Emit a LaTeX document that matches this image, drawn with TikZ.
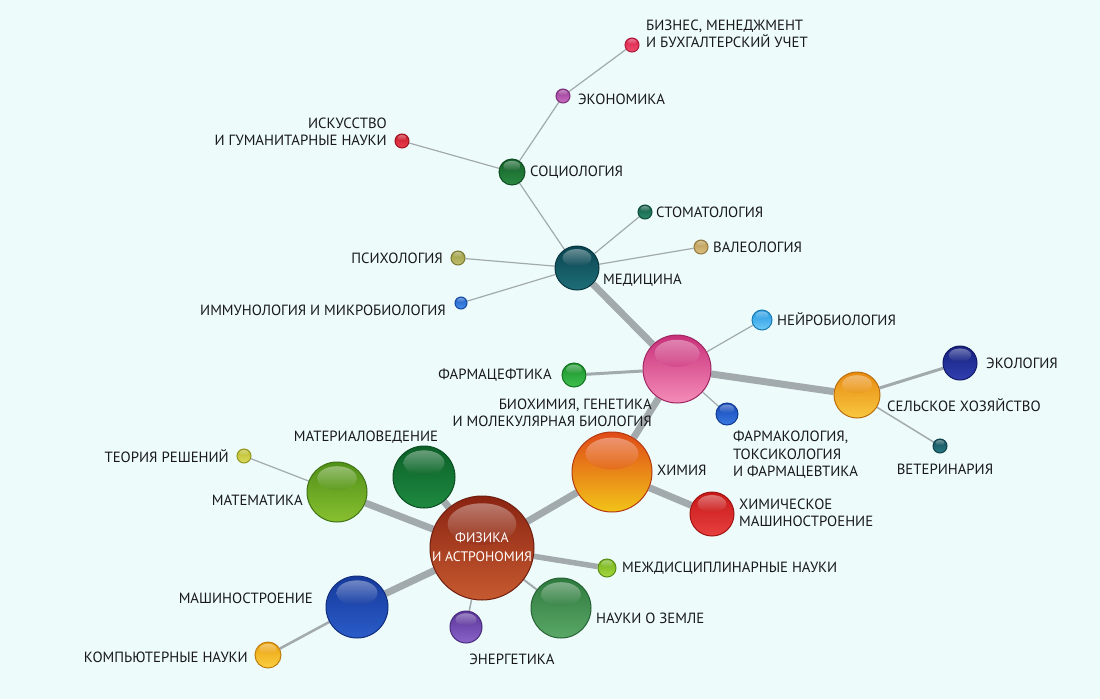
\documentclass[tikz,border=0pt]{standalone}
\usepackage{fontspec}
\setmainfont{PT Sans}
\usetikzlibrary{backgrounds}

\definecolor{bgc}{HTML}{EDFBFB}
\definecolor{edgec}{HTML}{A3AAAE}
\definecolor{physT}{HTML}{8A2412}\definecolor{physB}{HTML}{C65A30}
\definecolor{chemT}{HTML}{E04A18}\definecolor{chemB}{HTML}{F2C418}
\definecolor{bioT}{HTML}{C8307A}\definecolor{bioB}{HTML}{F48CB8}
\definecolor{medT}{HTML}{0A4450}\definecolor{medB}{HTML}{1E6E78}
\definecolor{socT}{HTML}{14602A}\definecolor{socB}{HTML}{2A8A40}
\definecolor{econT}{HTML}{9A3A98}\definecolor{econB}{HTML}{C870C0}
\definecolor{busT}{HTML}{DA1E48}\definecolor{busB}{HTML}{F05070}
\definecolor{artsT}{HTML}{C81828}\definecolor{artsB}{HTML}{E84050}
\definecolor{stomT}{HTML}{145E48}\definecolor{stomB}{HTML}{2A8A68}
\definecolor{valT}{HTML}{B89850}\definecolor{valB}{HTML}{DCC080}
\definecolor{psyT}{HTML}{9A9A40}\definecolor{psyB}{HTML}{C0C070}
\definecolor{immT}{HTML}{1A5CC8}\definecolor{immB}{HTML}{4A90E8}
\definecolor{neuT}{HTML}{2098E0}\definecolor{neuB}{HTML}{70C8F8}
\definecolor{phcT}{HTML}{189028}\definecolor{phcB}{HTML}{40C050}
\definecolor{pcolT}{HTML}{1448B8}\definecolor{pcolB}{HTML}{3A78E0}
\definecolor{agrT}{HTML}{E88A10}\definecolor{agrB}{HTML}{F8C840}
\definecolor{ecolT}{HTML}{14207E}\definecolor{ecolB}{HTML}{3040B0}
\definecolor{vetT}{HTML}{14505A}\definecolor{vetB}{HTML}{2A7A84}
\definecolor{cengT}{HTML}{C81818}\definecolor{cengB}{HTML}{E84040}
\definecolor{intT}{HTML}{70B018}\definecolor{intB}{HTML}{A8D840}
\definecolor{earT}{HTML}{2E7A3E}\definecolor{earB}{HTML}{5AA868}
\definecolor{enrT}{HTML}{5A3498}\definecolor{enrB}{HTML}{8A64C8}
\definecolor{mechT}{HTML}{163A9C}\definecolor{mechB}{HTML}{2A5CC8}
\definecolor{compT}{HTML}{ECA010}\definecolor{compB}{HTML}{FAD040}
\definecolor{mathT}{HTML}{509018}\definecolor{mathB}{HTML}{88C030}
\definecolor{decT}{HTML}{BABA28}\definecolor{decB}{HTML}{DCDC60}
\definecolor{matT}{HTML}{0C6028}\definecolor{matB}{HTML}{1E8A40}

\begin{document}
\begin{tikzpicture}[x=1pt,y=-1pt]

\tikzset{ThickEdge/.style={draw=edgec,line width=7pt},
  MidEdge/.style={draw=edgec,line width=3pt},
  ThinEdge/.style={draw=edgec,line width=1.2pt},
  Lbl/.style={font=\fontsize{14.8}{17.5}\selectfont,inner sep=0pt,text=black!90}}

  \useasboundingbox (0,0) rectangle (1100,699);

  % spheres
  \foreach \n/\x/\y/\r/\c in {phys/482/548/52/phys, chem/612/472/40/chem,
      bio/677/369/34/bio, med/577/268/22/med, soc/512/172/13/soc,
      econ/563/96/7/econ, bus/632/45/7/bus, arts/402/141/7/arts,
      stom/645/212/7/stom, val/701/247/7/val, psy/458/258/7/psy,
      imm/461/303/6/imm, neu/762/320/10/neu, phc/574/375/12/phc,
      pcol/727/414/11/pcol, agr/857/395/23/agr, ecol/960/363/17/ecol,
      vet/940/446/7/vet, ceng/712/514/22/ceng, int/607/568/9/int,
      ear/561/608/30/ear, enr/466/627/16/enr, mech/357/607/31/mech,
      comp/268/655/13/comp, math/337/492/30/math, dec/244/456/7/dec,
      mat/424/477/31/mat}
  {
    \node[circle,inner sep=0pt,minimum size={2*\r*1pt},top color=\c T,
      bottom color=\c B,draw=\c T!80!black,line width=1pt] (\n) at (\x,\y) {};
    \shade[top color=white,bottom color=\c T,fill opacity=.38]
      (\x,{\y-0.46*\r}) ellipse [x radius={0.66*\r*1pt},y radius={0.40*\r*1pt}];
  }

  % labels
  \node[Lbl,text=white,align=center,font=\fontsize{13.8}{18.5}\selectfont] (lphys) at (482,547) {ФИЗИКА\\И АСТРОНОМИЯ};
  \node[Lbl,anchor=west] (lchem) at (657,470) {ХИМИЯ};
  \node[Lbl,anchor=east,align=right] (lbio) at (652,413) {БИОХИМИЯ, ГЕНЕТИКА\\И МОЛЕКУЛЯРНАЯ БИОЛОГИЯ};
  \node[Lbl,anchor=west] (lmed) at (603,280) {МЕДИЦИНА};
  \node[Lbl,anchor=west] (lsoc) at (530,172) {СОЦИОЛОГИЯ};
  \node[Lbl,anchor=west] (lecon) at (578,99) {ЭКОНОМИКА};
  \node[Lbl,anchor=west,align=left] (lbus) at (646,34) {БИЗНЕС, МЕНЕДЖМЕНТ\\И БУХГАЛТЕРСКИЙ УЧЕТ};
  \node[Lbl,anchor=east,align=right] (larts) at (387,132) {ИСКУССТВО\\И ГУМАНИТАРНЫЕ НАУКИ};
  \node[Lbl,anchor=west] (lstom) at (656,212) {СТОМАТОЛОГИЯ};
  \node[Lbl,anchor=west] (lval) at (713,247) {ВАЛЕОЛОГИЯ};
  \node[Lbl,anchor=east] (lpsy) at (443,258) {ПСИХОЛОГИЯ};
  \node[Lbl,anchor=east] (limm) at (446,310) {ИММУНОЛОГИЯ И МИКРОБИОЛОГИЯ};
  \node[Lbl,anchor=west] (lneu) at (777,319) {НЕЙРОБИОЛОГИЯ};
  \node[Lbl,anchor=east] (lphc) at (552,375) {ФАРМАЦЕФТИКА};
  \node[Lbl,anchor=west,align=left] (lpcol) at (733,455) {ФАРМАКОЛОГИЯ,\\ТОКСИКОЛОГИЯ\\И ФАРМАЦЕВТИКА};
  \node[Lbl,anchor=west] (lagr) at (887,405) {СЕЛЬСКОЕ ХОЗЯЙСТВО};
  \node[Lbl,anchor=west] (lecol) at (986,363) {ЭКОЛОГИЯ};
  \node[Lbl] (lvet) at (945,469) {ВЕТЕРИНАРИЯ};
  \node[Lbl,anchor=west,align=left] (lceng) at (739,513) {ХИМИЧЕСКОЕ\\МАШИНОСТРОЕНИЕ};
  \node[Lbl,anchor=west] (lint) at (622,568) {МЕЖДИСЦИПЛИНАРНЫЕ НАУКИ};
  \node[Lbl,anchor=west] (lear) at (596,618) {НАУКИ О ЗЕМЛЕ};
  \node[Lbl] (lenr) at (512,659) {ЭНЕРГЕТИКА};
  \node[Lbl,anchor=east] (lmech) at (313,598) {МАШИНОСТРОЕНИЕ};
  \node[Lbl,anchor=east] (lcomp) at (248,657) {КОМПЬЮТЕРНЫЕ НАУКИ};
  \node[Lbl,anchor=east] (lmath) at (303,500) {МАТЕМАТИКА};
  \node[Lbl,anchor=east] (ldec) at (229,456) {ТЕОРИЯ РЕШЕНИЙ};
  \node[Lbl] (lmat) at (366,437) {МАТЕРИАЛОВЕДЕНИЕ};

  % edges
  \begin{pgfonlayer}{background}
    \fill[bgc] (0,0) rectangle (1100,699);
    \draw[ThickEdge] (phys) -- (chem);
    \draw[ThickEdge] (chem) -- (bio);
    \draw[ThickEdge] (bio) -- (med);
    \draw[ThickEdge] (bio) -- (agr);
    \draw[ThickEdge] (phys) -- (math);
    \draw[ThickEdge] (phys) -- (mech);
    \draw[ThickEdge] (phys) -- (mat);
    \draw[ThickEdge] (chem) -- (ceng);
    \draw[draw=edgec,line width=5.5pt] (phys) -- (int);
    \draw[MidEdge] (agr) -- (ecol);
    \draw[MidEdge] (bio) -- (phc);
    \draw[draw=edgec,line width=2.5pt] (mech) -- (comp);
    \draw[draw=edgec,line width=2pt] (phys) -- (ear);
    \draw[draw=edgec,line width=1.5pt] (phys) -- (enr);
    \draw[draw=edgec,line width=1.5pt] (agr) -- (vet);
    \draw[ThinEdge] (bio) -- (neu);
    \draw[ThinEdge] (bio) -- (pcol);
    \draw[ThinEdge] (math) -- (dec);
    \draw[ThinEdge] (med) -- (soc);
    \draw[ThinEdge] (med) -- (stom);
    \draw[ThinEdge] (med) -- (val);
    \draw[ThinEdge] (med) -- (psy);
    \draw[ThinEdge] (med) -- (imm);
    \draw[ThinEdge] (soc) -- (econ);
    \draw[ThinEdge] (soc) -- (arts);
    \draw[ThinEdge] (econ) -- (bus);
  \end{pgfonlayer}

\end{tikzpicture}
\end{document}
